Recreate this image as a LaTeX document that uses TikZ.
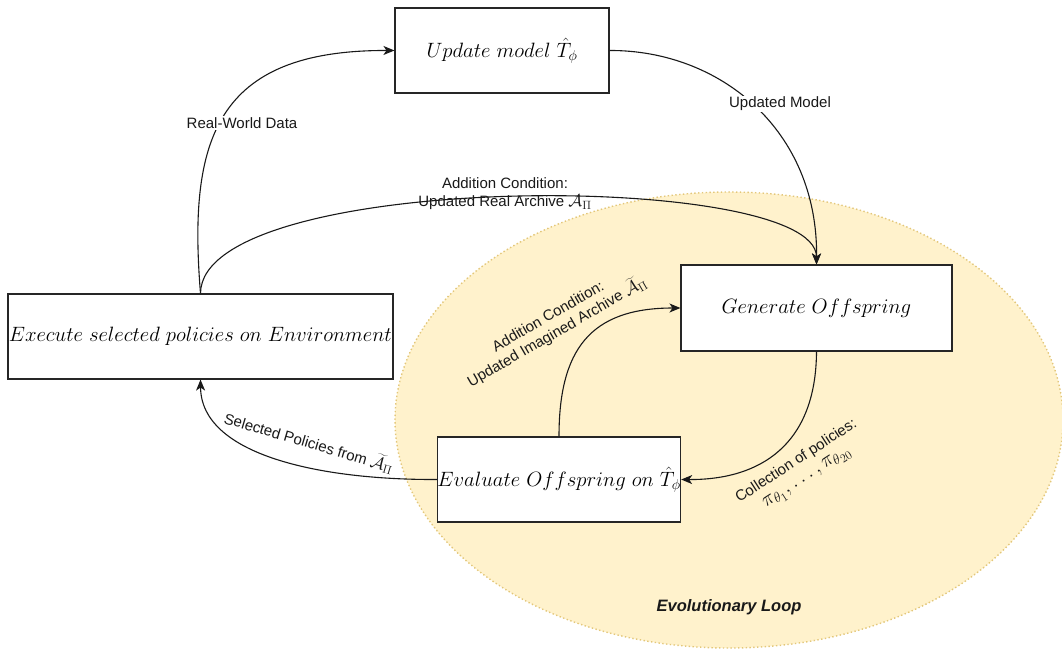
\documentclass[tikz,border=0pt]{standalone}
\usepackage{fontspec}
\newfontfamily\lblfont{Liberation Sans}
\usetikzlibrary{arrows.meta}
\definecolor{loopfill}{HTML}{FFF2CC}
\definecolor{loopline}{HTML}{E3C77A}

% larger math inside sans labels
\newcommand{\bigmath}[1]{{\fontsize{17.28}{18}\selectfont$#1$}}
\newcommand{\hugemath}[1]{{\fontsize{20.74}{22}\selectfont$#1$}}

\begin{document}
\begin{tikzpicture}[x=1pt,y=-1pt,
  box/.style={draw=black!85,line width=1.1pt,fill=white,inner sep=0pt,
              font=\fontsize{20}{24}\selectfont},
  lbl/.style={font=\lblfont\fontsize{15}{18}\selectfont,align=center,inner sep=1pt,text=black!90},
  link/.style={line width=1.1pt,draw=black!90,
               -{Stealth[length=11pt,width=9pt,inset=3pt]}},
  loop/.style={fill=loopfill,draw=loopline,line width=1.4pt,
               dash pattern=on 1.4pt off 2.4pt}]

\useasboundingbox (0,0) rectangle (1062,650);

% evolutionary loop region
\draw[loop] (729,420) ellipse [x radius=334pt, y radius=228pt];
\node[font=\lblfont\bfseries\itshape\fontsize{16.5}{20}\selectfont,text=black!90]
  (looptitle) at (729,607) {Evolutionary Loop};

% process boxes
\node[box,minimum width=214pt,minimum height=85pt] (upd) at (502,50.5)
  {$Update\ model\ \hat{T}_\phi$};
\node[box,minimum width=385pt,minimum height=85pt] (exe) at (200.5,336.5)
  {$Execute\ selected\ policies\ on\ Environment$};
\node[box,minimum width=271pt,minimum height=86pt] (gen) at (816.5,308)
  {$Generate\ Offspring$};
\node[box,minimum width=242pt,minimum height=85pt] (eva) at (559,479.5)
  {$Evaluate\ Offspring\ on\ \hat{T}_\phi$};

% connectors
\draw[link] (exe.north) .. controls (188,140) and (215,50) .. (upd.west);
\draw[link] (upd.east) .. controls (720,50) and (818,130) .. (gen.north);
\draw[link] (exe.north) .. controls (201,170) and (816,170) .. (gen.north);
\draw[link] (gen.south) .. controls (816,445) and (760,480) .. (eva.east);
\draw[link] (eva.north) .. controls (559,350) and (590,308) .. (gen.west);
\draw[link] (eva.west) .. controls (320,480) and (201,455) .. (exe.south);

% connector labels
\node[lbl,fill=white] (lrw) at (242,123) {Real-World Data};
\node[lbl,fill=white] (lum) at (780,104) {Updated Model};
\node[lbl] (lra) at (505,194) {Addition Condition:\\Updated Real Archive \bigmath{\mathcal{A}_\Pi}};
\node[lbl,rotate=30] (lia) at (553,325)
  {Addition Condition:\\Updated Imagined Archive \bigmath{\widetilde{\mathcal{A}}_\Pi}};
\node[lbl,rotate=33] (lcp) at (802,470)
  {Collection of policies:\\\hugemath{\pi_{\theta_1},\ldots,\pi_{\theta_{20}}}};
\node[lbl,rotate=-16.5] (lsp) at (309,442)
  {Selected Policies from \bigmath{\widetilde{\mathcal{A}}_\Pi}};

\end{tikzpicture}
\end{document}
